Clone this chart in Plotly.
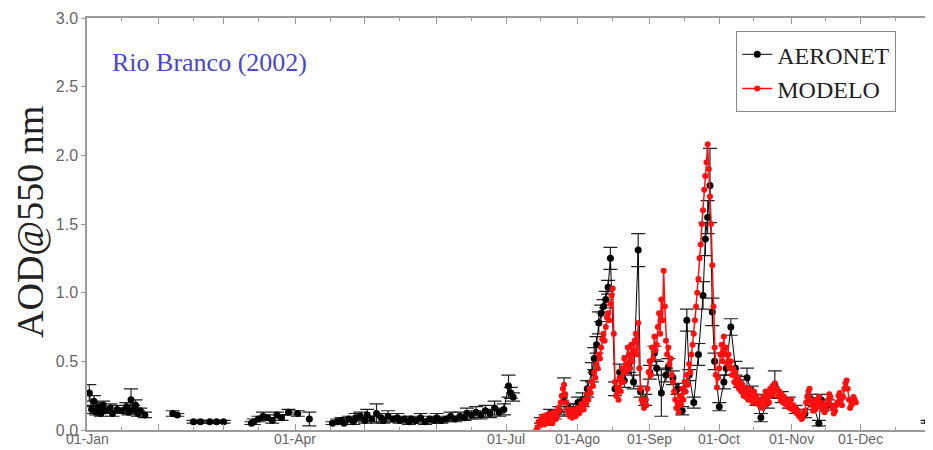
import plotly.graph_objects as go
import pandas as pd

# ---------------- data (day of year, 0 = 01-Jan-2002) ----------------
aeronet_day = [1, 2, 3, 4, 5, 6, 7, 8, 10, 11, 13, 15, 17, 18, 19, 20, 21, 22, 23, 25,
               37, 39, 46, 49, 53, 56, 59,
               71, 72, 74, 76, 78, 80, 82, 84, 87, 91, 96,
               106, 108, 110, 111, 113, 115, 116, 118, 120, 121, 123, 125, 127, 128, 130, 132,
               134, 135, 137, 139, 140, 142, 144, 146, 148, 150, 151, 153, 155, 157, 159, 161,
               163, 164, 166, 168, 170, 172, 174, 176, 178, 180,
               182, 183, 184,
               196, 198, 200, 202, 204, 206, 208, 210, 212, 214, 216, 218, 219, 220, 221, 222,
               223, 224, 225, 226, 228, 230, 232, 234, 236, 238, 239, 241, 243, 245, 246, 248,
               250, 251, 253, 255, 257, 259, 260, 262, 264, 266, 267, 268, 269, 270, 271, 273,
               275, 276, 278, 280, 282, 285, 287, 289, 291, 294, 297, 300, 303, 306, 310, 313,
               316, 317, 320,
               363]
aeronet_aod = [0.27, 0.15, 0.21, 0.13, 0.17, 0.12, 0.18, 0.14, 0.16, 0.12, 0.15, 0.14, 0.17, 0.13, 0.22, 0.15, 0.18, 0.12, 0.14, 0.11,
               0.12, 0.11, 0.06, 0.06, 0.06, 0.06, 0.06,
               0.05, 0.06, 0.08, 0.10, 0.09, 0.07, 0.11, 0.09, 0.13, 0.12, 0.08,
               0.05, 0.06, 0.07, 0.05, 0.08, 0.06, 0.09, 0.10, 0.07, 0.11, 0.08, 0.12, 0.09, 0.07, 0.10, 0.08,
               0.09, 0.07, 0.08, 0.06, 0.08, 0.07, 0.09, 0.06, 0.08, 0.07, 0.09, 0.07, 0.08, 0.10, 0.08, 0.10,
               0.09, 0.12, 0.11, 0.13, 0.11, 0.14, 0.12, 0.16, 0.13, 0.15,
               0.32, 0.27, 0.24,
               0.07, 0.09, 0.12, 0.11, 0.14, 0.24, 0.16, 0.15, 0.20, 0.22, 0.30, 0.42, 0.52, 0.62, 0.78, 0.85,
               0.90, 0.95, 1.04, 1.25, 0.30, 0.42, 0.36, 0.48, 0.35, 1.31, 0.28, 0.22, 0.42, 0.56, 0.45, 0.27,
               0.40, 0.46, 0.38, 0.30, 0.14, 0.80, 0.40, 0.20, 0.55, 0.98, 1.39, 1.55, 1.78, 0.86, 0.50, 0.17,
               0.35, 0.45, 0.75, 0.45, 0.35, 0.38, 0.28, 0.22, 0.09, 0.20, 0.33, 0.24, 0.20, 0.15, 0.12, 0.22,
               0.05, 0.22, 0.18,
               0.06]
aeronet_err = [0.06, 0.03, 0.04, 0.02, 0.03, 0.02, 0.03, 0.02, 0.03, 0.02, 0.03, 0.02, 0.03, 0.02, 0.08, 0.03, 0.04, 0.02, 0.02, 0.02,
               0.02, 0.01, 0.01, 0.01, 0.01, 0.01, 0.01,
               0.01, 0.02, 0.02, 0.03, 0.02, 0.02, 0.02, 0.02, 0.02, 0.02, 0.05,
               0.01, 0.02, 0.02, 0.01, 0.02, 0.02, 0.03, 0.03, 0.02, 0.04, 0.02, 0.07, 0.03, 0.02, 0.04, 0.02,
               0.03, 0.02, 0.02, 0.02, 0.02, 0.02, 0.03, 0.02, 0.02, 0.02, 0.03, 0.02, 0.02, 0.03, 0.02, 0.03,
               0.02, 0.04, 0.03, 0.04, 0.03, 0.04, 0.03, 0.05, 0.03, 0.04,
               0.08, 0.04, 0.03,
               0.02, 0.02, 0.03, 0.03, 0.03, 0.14, 0.03, 0.04, 0.04, 0.05, 0.06, 0.07, 0.08, 0.06, 0.08, 0.06,
               0.05, 0.06, 0.05, 0.08, 0.05, 0.06, 0.05, 0.06, 0.05, 0.12, 0.04, 0.04, 0.05, 0.05, 0.05, 0.17,
               0.05, 0.06, 0.05, 0.04, 0.03, 0.08, 0.04, 0.04, 0.08, 0.10, 0.12, 0.12, 0.27, 0.10, 0.06, 0.03,
               0.05, 0.05, 0.06, 0.05, 0.04, 0.07, 0.04, 0.04, 0.03, 0.04, 0.10, 0.04, 0.04, 0.03, 0.03, 0.04,
               0.02, 0.04, 0.04,
               0.01]

modelo_day0 = 194          # first model day, two values per day (00 h and 12 h)
modelo_aod = [
    0.00, 0.02, 0.06, 0.03, 0.08, 0.05, 0.10, 0.04, 0.07, 0.11, 0.09, 0.05, 0.12, 0.07, 0.05, 0.09,
    0.13, 0.08, 0.10, 0.16, 0.14, 0.20, 0.25, 0.30, 0.33, 0.26, 0.20, 0.15, 0.12, 0.10, 0.15, 0.09,
    0.12, 0.15, 0.10, 0.14, 0.16, 0.12, 0.14, 0.19, 0.18, 0.15, 0.22, 0.19, 0.26, 0.22, 0.30, 0.27,
    0.35, 0.32, 0.42, 0.38, 0.48, 0.45, 0.55, 0.52, 0.60, 0.66, 0.70, 0.65, 0.75, 0.82, 0.85, 0.80,
    0.92, 0.98, 1.03, 0.70, 0.35, 0.25, 0.31, 0.22, 0.38, 0.28, 0.45, 0.35, 0.52, 0.42, 0.48, 0.60,
    0.55, 0.45, 0.62, 0.50, 0.58, 0.65, 0.70, 0.55, 0.78, 0.45, 0.30, 0.22, 0.20, 0.16, 0.22, 0.18,
    0.30, 0.42, 0.50, 0.40, 0.60, 0.52, 0.68, 0.58, 0.62, 0.75, 0.85, 0.70, 0.95, 0.80, 1.16, 0.90,
    0.65, 0.55, 0.60, 0.48, 0.52, 0.40, 0.35, 0.28, 0.22, 0.16, 0.20, 0.13, 0.25, 0.18, 0.30, 0.22,
    0.35, 0.28, 0.40, 0.33, 0.48, 0.42, 0.55, 0.62, 0.70, 0.80, 0.90, 1.00, 1.10, 1.25, 1.35, 1.50,
    1.60, 1.75, 1.85, 1.95, 2.08, 1.90, 1.70, 1.50, 1.20, 0.90, 0.60, 0.40, 0.31, 0.38, 0.45, 0.55,
    0.62, 0.50, 0.68, 0.55, 0.60, 0.48, 0.55, 0.45, 0.50, 0.40, 0.45, 0.35, 0.42, 0.33, 0.38, 0.30,
    0.35, 0.28, 0.33, 0.25, 0.30, 0.24, 0.28, 0.22, 0.30, 0.24, 0.26, 0.20, 0.28, 0.22, 0.25, 0.19,
    0.22, 0.18, 0.20, 0.16, 0.24, 0.18, 0.28, 0.22, 0.26, 0.20, 0.30, 0.25, 0.32, 0.28, 0.34, 0.30,
    0.30, 0.25, 0.28, 0.22, 0.26, 0.20, 0.24, 0.19, 0.22, 0.17, 0.20, 0.16, 0.22, 0.15, 0.18, 0.14,
    0.16, 0.12, 0.14, 0.10, 0.10, 0.08, 0.09, 0.12, 0.14, 0.20, 0.24, 0.28, 0.30, 0.22, 0.18, 0.14,
    0.20, 0.15, 0.22, 0.17, 0.24, 0.18, 0.20, 0.15, 0.17, 0.13, 0.15, 0.19, 0.22, 0.26, 0.24, 0.18,
    0.16, 0.12, 0.14, 0.18, 0.20, 0.25, 0.27, 0.22, 0.18, 0.24, 0.30, 0.34, 0.36, 0.30, 0.22, 0.16,
    0.18, 0.20, 0.24, 0.22, 0.20]

month_starts = ["2002-01-01", "2002-02-01", "2002-03-01", "2002-04-01", "2002-05-01", "2002-06-01",
                "2002-07-01", "2002-08-01", "2002-09-01", "2002-10-01", "2002-11-01", "2002-12-01"]
month_labels = ["01-Jan", "", "", "01-Apr", "", "", "01-Jul", "01-Ago", "01-Sep", "01-Oct", "01-Nov", "01-Dec"]
mid_months = ["2002-%02d-16" % m for m in range(1, 13)]

# ---------------- build traces ----------------
base = pd.Timestamp("2002-01-01")

# break the AERONET line where observations are missing for several days
ax, ay, ae = [], [], []
prev = None
for d, v, e in zip(aeronet_day, aeronet_aod, aeronet_err):
    if prev is not None and d - prev > 4:
        ax.append(base + pd.Timedelta(days=(d + prev) / 2)); ay.append(None); ae.append(None)
    ax.append(base + pd.Timedelta(days=d)); ay.append(v); ae.append(e)
    prev = d

mx = [base + pd.Timedelta(days=modelo_day0 + 0.5 * i) for i in range(len(modelo_aod))]

fig = go.Figure()
fig.add_trace(go.Scatter(
    x=ax, y=ay, name="AERONET", mode="lines+markers",
    line=dict(color="black", width=1),
    marker=dict(color="black", size=7),
    error_y=dict(type="data", array=ae, visible=True, color="#222", thickness=1.2, width=7),
    connectgaps=False,
))
fig.add_trace(go.Scatter(
    x=mx, y=modelo_aod, name="MODELO", mode="lines+markers",
    line=dict(color="#ff1010", width=1.5),
    marker=dict(color="#ff1010", size=6),
))

# panel label
fig.add_annotation(
    text="Rio Branco (2002)", xref="paper", yref="paper", x=0.027, y=0.893,
    xanchor="left", yanchor="middle", showarrow=False,
    font=dict(family="Liberation Serif", size=26, color="#4848c8"),
)
# y-axis title
fig.add_annotation(
    text="AOD@550 nm", xref="paper", yref="paper", x=-0.0676, y=0.505,
    xanchor="center", yanchor="middle", textangle=-90, showarrow=False,
    font=dict(family="Liberation Serif", size=38, color="#222"),
)
# x tick labels, placed on the date axis just under the frame
for d, lab in zip(month_starts, month_labels):
    if lab:
        fig.add_annotation(
            text=lab, x=d, xref="x", y=0, yref="paper", yanchor="top", yshift=1,
            showarrow=False, font=dict(family="Liberation Sans", size=14, color="#666"),
        )

axis_col = "#9a9a9a"
fig.update_xaxes(
    type="date", range=["2002-01-01", "2002-12-31"],
    tickmode="array", tickvals=month_starts, ticktext=month_labels, showticklabels=False,
    ticks="inside", ticklen=6, tickcolor=axis_col, mirror="ticks",
    showline=True, linecolor=axis_col, linewidth=1.5, showgrid=False, zeroline=False,
    minor=dict(tickmode="array", tickvals=mid_months, ticks="inside", ticklen=3, tickcolor=axis_col),
    automargin=False,
)
fig.update_yaxes(
    range=[0, 3], dtick=0.5, tickformat=".1f",
    ticks="outside", ticklen=4, tickcolor=axis_col, mirror="ticks",
    showline=True, linecolor=axis_col, linewidth=1.5, showgrid=False, zeroline=False,
    tickfont=dict(family="Liberation Sans", size=16, color="#666"),
    automargin=False,
)

# the page adds an 8 px body margin, so the figure is drawn 8 px smaller
fig.update_layout(
    width=925, height=442,
    margin=dict(l=79, r=3, t=10, b=20),
    plot_bgcolor="white", paper_bgcolor="white",
    legend=dict(x=0.96, y=0.968, xanchor="right", yanchor="top",
                bordercolor="#888", borderwidth=1, bgcolor="white",
                font=dict(family="Liberation Serif", size=24, color="#222"),
                itemwidth=30, tracegroupgap=0),
)

fig.write_html("out.html")
